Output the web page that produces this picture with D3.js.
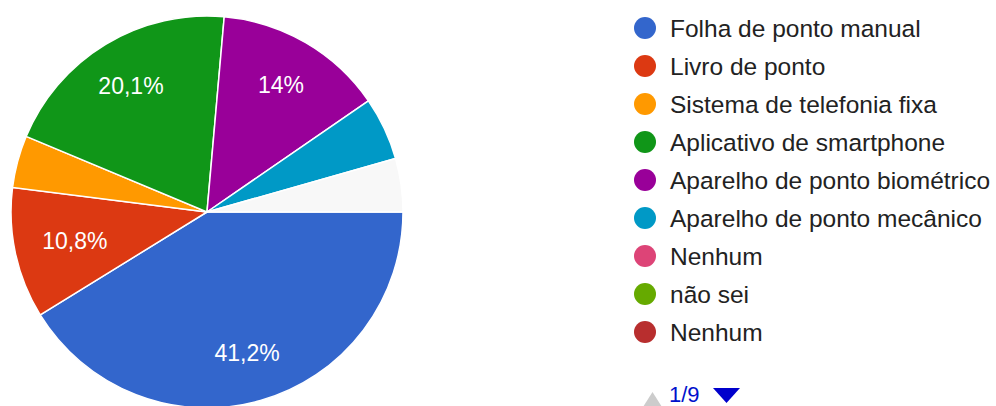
<!DOCTYPE html>
<html>
<head>
<meta charset="utf-8">
<script src="https://cdn.jsdelivr.net/npm/d3@7/dist/d3.min.js"></script>
<style>
  html, body { margin: 0; padding: 0; background: #fff; overflow: hidden; }
  svg { display: block; font-family: Arial, "Liberation Sans", sans-serif; }
</style>
</head>
<body>
<svg id="chart" width="996" height="406"></svg>
<script>
// Slices as drawn (small categories are grouped in the last, unlabelled slice)
const sliceNames = ["Folha de ponto manual", "Livro de ponto", "Sistema de telefonia fixa",
  "Aplicativo de smartphone", "Aparelho de ponto biométrico", "Aparelho de ponto mecânico", "Outros"];
const sliceValues = [41.2, 10.8, 4.3, 20.1, 14.0, 5.2, 4.4];
const sliceColors = ["#3366cc", "#dc3912", "#ff9900", "#109618", "#990099", "#0099c6", "#f8f8f8"];
const sliceLabels = ["41,2%", "10,8%", "", "20,1%", "14%", "", ""];

// Legend (page 1 of 9)
const legendLabels = ["Folha de ponto manual", "Livro de ponto", "Sistema de telefonia fixa",
  "Aplicativo de smartphone", "Aparelho de ponto biométrico", "Aparelho de ponto mecânico",
  "Nenhum", "não sei", "Nenhum"];
const legendColors = ["#3366cc", "#dc3912", "#ff9900", "#109618", "#990099", "#0099c6",
  "#dd4477", "#66aa00", "#b82e2e"];
const pageText = "1/9";

const svg = d3.select("#chart");
const cx = 207, cy = 212, r = 196;

const pie = d3.pie().sort(null).value(d => d)
  .startAngle(Math.PI / 2).endAngle(Math.PI / 2 + 2 * Math.PI);
const arcs = pie(sliceValues);
const arc = d3.arc().innerRadius(0).outerRadius(r);

const g = svg.append("g").attr("transform", `translate(${cx},${cy})`);
g.selectAll("path.slice").data(arcs).enter().append("path")
  .attr("class", "slice")
  .attr("d", arc)
  .attr("fill", (d, i) => sliceColors[i])
  .attr("stroke", "#fff")
  .attr("stroke-width", 1.5);

const labelFrac = [0.75, 0.69, 0.75, 0.75, 0.75, 0.75, 0.75];
g.selectAll("text.lbl").data(arcs).enter().append("text")
  .attr("class", "lbl")
  .attr("transform", (d, i) => {
    const a = (d.startAngle + d.endAngle) / 2;
    const rr = r * labelFrac[i];
    return `translate(${Math.sin(a) * rr},${-Math.cos(a) * rr})`;
  })
  .attr("text-anchor", "middle")
  .attr("dominant-baseline", "central")
  .attr("fill", "#fff")
  .attr("font-size", 23)
  .text((d, i) => sliceLabels[i]);

// Legend
const ly = d3.scalePoint().domain(d3.range(legendLabels.length)).range([28, 332]);
const leg = svg.append("g");
const rows = leg.selectAll("g.row").data(legendLabels).enter().append("g")
  .attr("class", "row")
  .attr("transform", (d, i) => `translate(645,${ly(i)})`);
rows.append("circle").attr("r", 11).attr("fill", (d, i) => legendColors[i]);
rows.append("text")
  .attr("x", 25)
  .attr("dy", "0.36em")
  .attr("font-size", 24.5)
  .attr("fill", "#222")
  .text(d => d);

// Pagination
const py = 395;
svg.append("path")
  .attr("d", d3.line()([[643, py + 12], [662, py + 12], [652.5, py - 3]]) + "Z")
  .attr("fill", "#cccccc");
svg.append("text")
  .attr("x", 669).attr("y", py + 7)
  .attr("font-size", 22).attr("fill", "#0011cc")
  .text(pageText);
svg.append("path")
  .attr("d", d3.line()([[713, py - 7], [740, py - 7], [726.5, py + 8]]) + "Z")
  .attr("fill", "#0000cc");
</script>
</body>
</html>
